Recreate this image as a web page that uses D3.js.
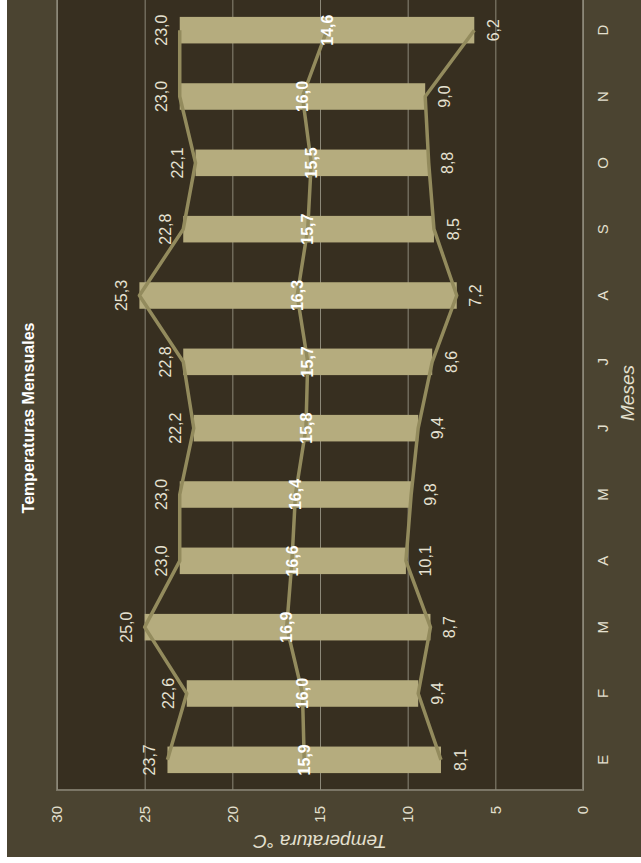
<!DOCTYPE html>
<html>
<head>
<meta charset="utf-8">
<script src="https://cdn.jsdelivr.net/npm/d3@7"></script>
<style>
  body { margin: 0; background: #ffffff; }
  svg { display: block; font-family: "Liberation Sans", Arial, sans-serif; }
  .tick line { stroke: #8c8878; }
</style>
</head>
<body>
<div class="chart_wrapper"></div>
<script>
// valores
const meses = ["E", "F", "M", "A", "M", "J", "J", "A", "S", "O", "N", "D"]
const tMax = [23.7, 22.6, 25.0, 23.0, 23.0, 22.2, 22.8, 25.3, 22.8, 22.1, 23.0, 23.0]
const tMedia = [15.9, 16.0, 16.9, 16.6, 16.4, 15.8, 15.7, 16.3, 15.7, 15.5, 16.0, 14.6]
const tMin = [8.1, 9.4, 8.7, 10.1, 9.8, 9.4, 8.6, 7.2, 8.5, 8.8, 9.0, 6.2]
const yTicks = [0, 5, 10, 15, 20, 25, 30]

function drawChart () {

  // the picture is the chart turned 90deg, so we draw it upright and rotate the group
  let dimensions = {
    width: 863,
    height: 641,
    margin: { top: 57, right: -6, bottom: 58, left: 73 },
  }
  dimensions.boundedWidth = dimensions.width - dimensions.margin.left - dimensions.margin.right
  dimensions.boundedHeight = dimensions.height - dimensions.margin.top - dimensions.margin.bottom

  const svg = d3.select(".chart_wrapper")
    .append("svg")
      .attr("width", 641)
      .attr("height", 863)

  const wrapper = svg.append("g")
    .attr("transform", "translate(0,863) rotate(-90)")

  wrapper.append("rect")
    .attr("x", 6)
    .attr("y", 7)
    .attr("width", 857)
    .attr("height", 634)
    .attr("fill", "#4b4431")

  const bounds = wrapper.append("g")
    .attr("transform", `translate(${dimensions.margin.left},${dimensions.margin.top})`)

  const idx = meses.map((m, i) => i)

  const xScale = d3.scaleBand()
    .domain(idx)
    .range([-3, dimensions.boundedWidth - 3])
    .paddingInner(0.6)
    .paddingOuter(0.3)

  const yScale = d3.scaleLinear()
    .domain([0, 30])
    .range([dimensions.boundedHeight, 0])

  const fmt = d3.formatLocale({ decimal: ",", thousands: ".", grouping: [3], currency: ["", "€"] }).format(".1f")

  bounds.append("rect")
    .attr("width", dimensions.boundedWidth)
    .attr("height", dimensions.boundedHeight)
    .attr("fill", "#372f20")
    .attr("stroke", "#7b7666")
    .attr("stroke-width", 2)

  // gridlines
  const grid = bounds.append("g")
    .call(d3.axisLeft(yScale).tickValues(yTicks).tickSize(-dimensions.boundedWidth).tickFormat(""))
  grid.select(".domain").remove()
  grid.selectAll(".tick line").attr("stroke", "#8c8878")

  // y tick labels
  const yAxis = bounds.append("g")
    .attr("transform", "translate(-16,0)")
    .call(d3.axisLeft(yScale).tickValues(yTicks).tickSize(0).tickPadding(0))
  yAxis.select(".domain").remove()
  yAxis.selectAll("text")
    .attr("fill", "#e4e0cf")
    .style("font-size", "15px")

  // x month labels
  const xAxis = bounds.append("g")
    .attr("transform", `translate(0,${dimensions.boundedHeight})`)
    .call(d3.axisBottom(xScale).tickSize(0).tickPadding(14).tickFormat(i => meses[i]))
  xAxis.select(".domain").remove()
  xAxis.selectAll("text")
    .attr("fill", "#e4e0cf")
    .style("font-size", "15px")

  const cx = i => xScale(i) + xScale.bandwidth() / 2

  bounds.selectAll(".bar")
    .data(idx)
    .enter()
    .append("rect")
      .attr("class", "bar")
      .attr("x", i => xScale(i))
      .attr("width", xScale.bandwidth())
      .attr("y", i => yScale(tMax[i]))
      .attr("height", i => yScale(tMin[i]) - yScale(tMax[i]))
      .attr("fill", "#b5ac7e")

  const series = [tMax, tMedia, tMin]
  series.forEach(vals => {
    bounds.append("path")
      .datum(idx)
      .attr("fill", "none")
      .attr("stroke", "#938b5d")
      .attr("stroke-width", 3.5)
      .attr("stroke-linejoin", "round")
      .attr("d", d3.line().x(i => cx(i)).y(i => yScale(vals[i])))
  })

  // etiquetas
  bounds.selectAll(".lblMax")
    .data(idx)
    .enter()
    .append("text")
      .attr("x", i => cx(i))
      .attr("y", i => yScale(tMax[i]) - 18)
      .attr("dy", "0.35em")
      .attr("text-anchor", "middle")
      .attr("fill", "#e6e2d2")
      .style("font-size", "16px")
      .text(i => fmt(tMax[i]))

  bounds.selectAll(".lblMin")
    .data(idx)
    .enter()
    .append("text")
      .attr("x", i => cx(i))
      .attr("y", i => yScale(tMin[i]) + 19)
      .attr("dy", "0.35em")
      .attr("text-anchor", "middle")
      .attr("fill", "#e6e2d2")
      .style("font-size", "16px")
      .text(i => fmt(tMin[i]))

  bounds.selectAll(".lblMedia")
    .data(idx)
    .enter()
    .append("text")
      .attr("x", i => cx(i))
      .attr("y", i => yScale(tMedia[i]))
      .attr("dy", "0.35em")
      .attr("text-anchor", "middle")
      .attr("fill", "#ffffff")
      .style("font-size", "16px")
      .style("font-weight", "bold")
      .text(i => fmt(tMedia[i]))

  // titulos
  wrapper.append("text")
    .attr("x", 445)
    .attr("y", 28)
    .attr("dy", "0.35em")
    .attr("text-anchor", "middle")
    .attr("fill", "#ffffff")
    .style("font-size", "16px")
    .style("font-weight", "bold")
    .text("Temperaturas Mensuales")

  wrapper.append("text")
    .attr("transform", "translate(21,320) rotate(-90)")
    .attr("dy", "0.35em")
    .attr("text-anchor", "middle")
    .attr("fill", "#e4e0cf")
    .style("font-size", "19px")
    .style("font-style", "italic")
    .text("Temperatura °C")

  wrapper.append("text")
    .attr("x", 470)
    .attr("y", 627)
    .attr("dy", "0.35em")
    .attr("text-anchor", "middle")
    .attr("fill", "#e4e0cf")
    .style("font-size", "19px")
    .style("font-style", "italic")
    .text("Meses")
}
drawChart()
</script>
</body>
</html>
